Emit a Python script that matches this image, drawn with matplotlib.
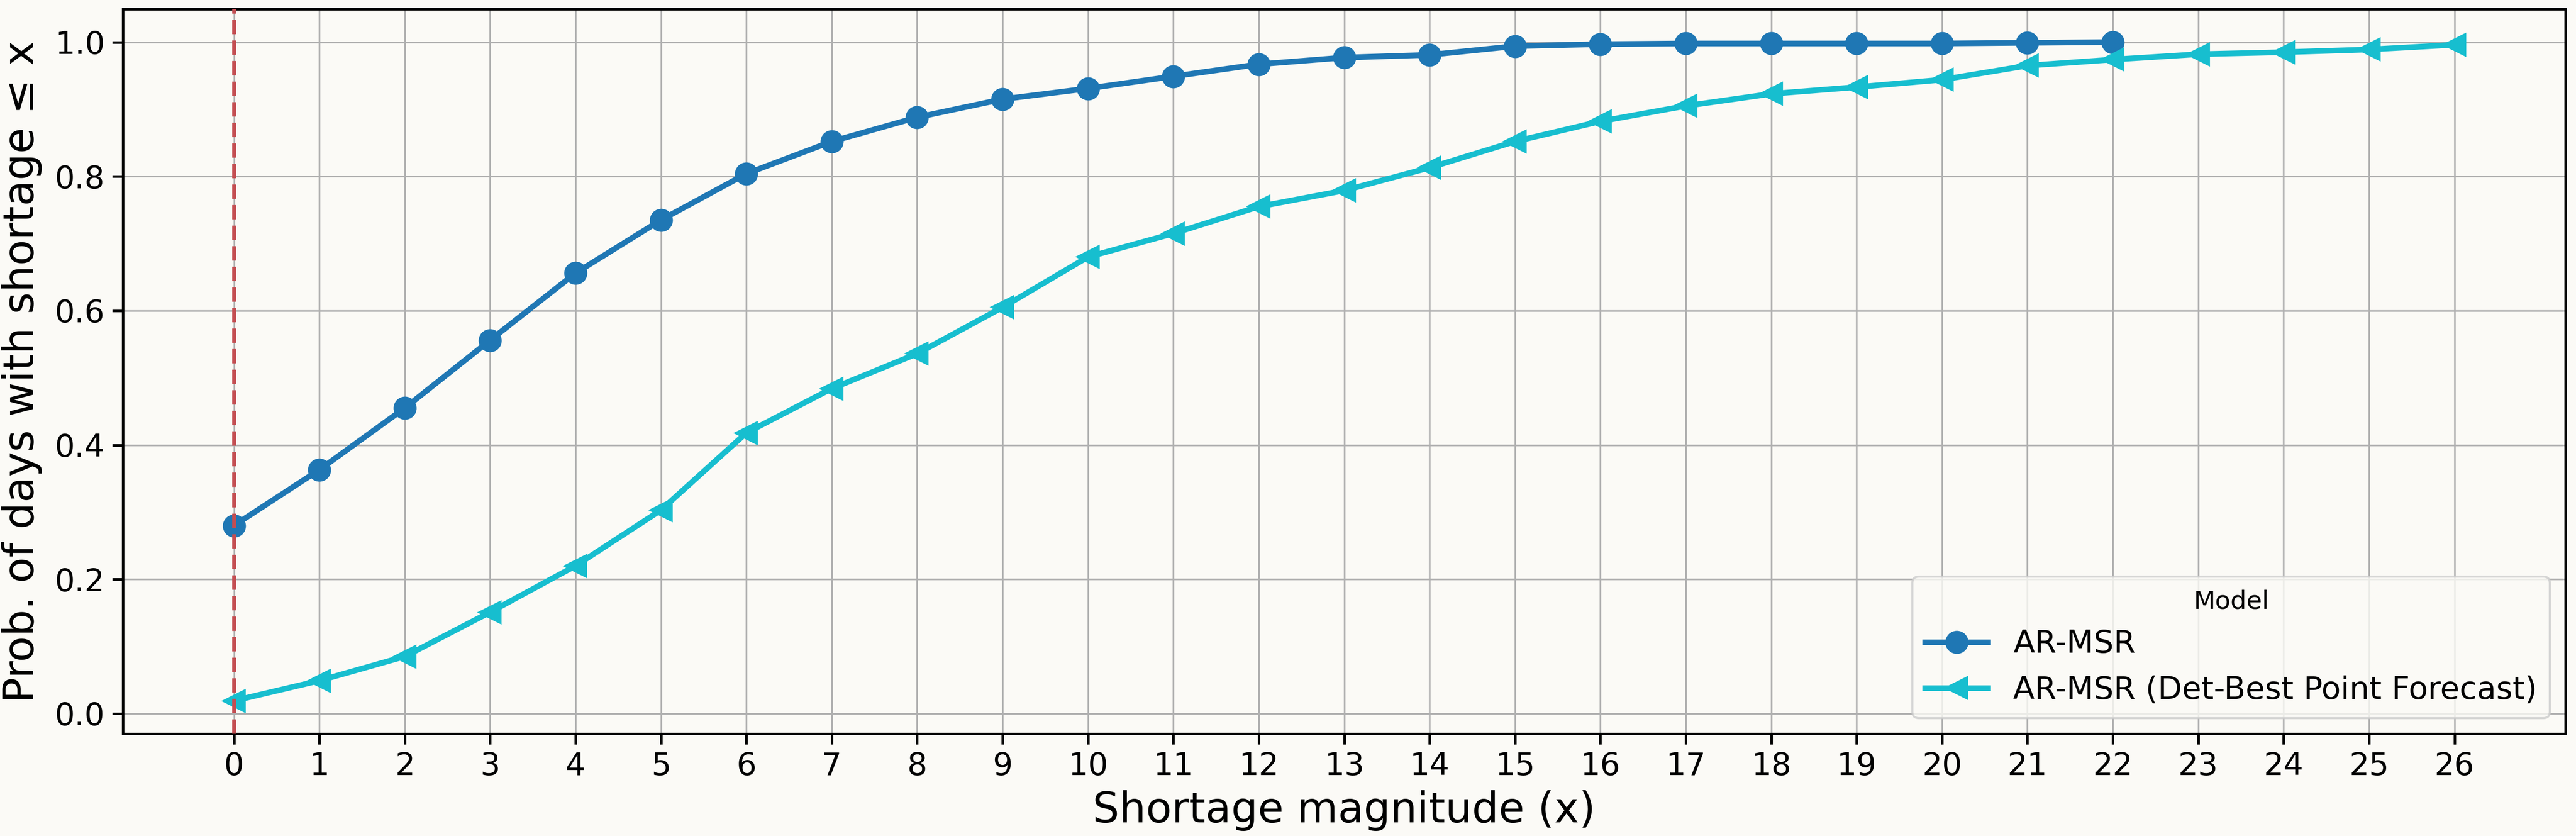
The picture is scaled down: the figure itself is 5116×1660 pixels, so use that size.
import numpy as np
import matplotlib
matplotlib.use("Agg")
import matplotlib.pyplot as plt

# shortage magnitude and cumulative probabilities
x_msr = list(range(0, 23))
p_msr = [0.280, 0.363, 0.455, 0.556, 0.656, 0.735, 0.804, 0.852, 0.888, 0.915,
         0.931, 0.949, 0.967, 0.977, 0.981, 0.994, 0.997, 0.998, 0.998, 0.998,
         0.998, 0.999, 1.000]

x_det = list(range(0, 27))
p_det = [0.019, 0.049, 0.085, 0.151, 0.220, 0.303, 0.418, 0.484, 0.536, 0.605,
         0.680, 0.715, 0.755, 0.779, 0.813, 0.852, 0.882, 0.905, 0.923, 0.933,
         0.944, 0.965, 0.974, 0.982, 0.985, 0.989, 0.996]

labels = ["AR-MSR", "AR-MSR (Det-Best Point Forecast)"]
colors = ["#1f77b4", "#17becf"]
bg = "#fbfaf6"

fig = plt.figure(figsize=(5116 / 300, 1660 / 300), dpi=300, facecolor=bg)
ax = fig.add_axes([0.0477, 0.1223, 0.9482, 0.8667])
ax.set_facecolor(bg)

ax.plot(x_msr, p_msr, marker="o", markersize=10, linewidth=2.7,
        color=colors[0], label=labels[0], zorder=3)
ax.plot(x_det, p_det, marker="<", markersize=10, linewidth=2.7,
        color=colors[1], label=labels[1], zorder=3)
ax.axvline(0, color="#c44e52", linestyle="--", linewidth=1.85, zorder=4)

ax.set_xticks(x_det)
ax.set_yticks(np.arange(0, 1.01, 0.2))
ax.grid(True, color="#b0b0b0", linewidth=0.8, zorder=0)
ax.set_axisbelow(True)
ax.tick_params(axis="both", labelsize=15, length=5, width=1.2, direction="out")
for s in ax.spines.values():
    s.set_linewidth(1.2)
    s.set_color("black")

ax.set_xlabel("Shortage magnitude (x)", fontsize=20, labelpad=4)
ax.set_ylabel("Prob. of days with shortage \u2264 x", fontsize=20, labelpad=6)

leg = ax.legend(title="Model", loc="lower right", fontsize=15,
                title_fontsize=12)
leg.get_frame().set_facecolor(bg)

fig.savefig("out.png", dpi=300, facecolor=bg)
